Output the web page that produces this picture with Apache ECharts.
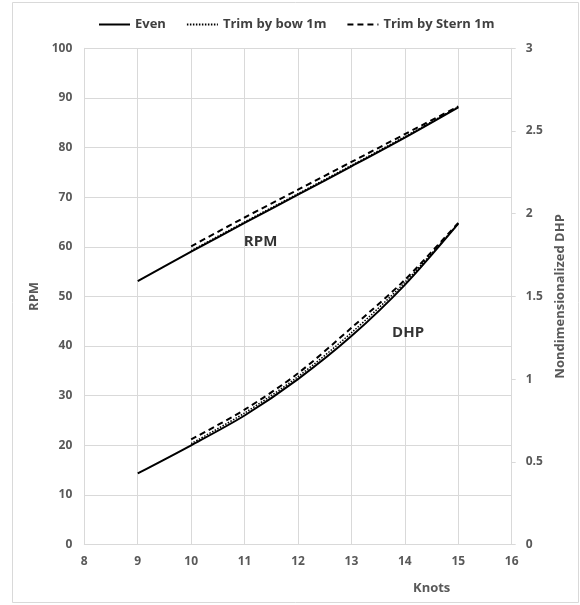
<!DOCTYPE html>
<html>
<head>
<meta charset="utf-8">
<script src="https://cdn.jsdelivr.net/npm/echarts@6/dist/echarts.min.js"></script>
<style>
  html, body { margin: 0; padding: 0; background: #ffffff; }
  #chart { width: 580px; height: 605px; }
</style>
</head>
<body>
<div id="chart"></div>
<script>
// Ship speed (knots) for the even-keel run and the two trim runs
const knotsEven = [9, 10, 11, 12, 13, 14, 15];
const knotsTrim = [10, 11, 12, 13, 14, 15];

// Propeller revolutions (left axis)
const rpmEven  = [53.1, 59.0, 64.8, 70.5, 76.2, 82.0, 88.1];
const rpmBow   = [59.2, 65.0, 70.7, 76.4, 82.2, 88.2];
const rpmStern = [60.1, 65.9, 71.5, 77.1, 82.7, 88.3];

// Nondimensionalized delivered horsepower (right axis)
const dhpEven  = [0.43, 0.60, 0.78, 1.00, 1.26, 1.57, 1.94];
const dhpBow   = [0.61, 0.795, 1.015, 1.28, 1.585, 1.94];
const dhpStern = [0.635, 0.815, 1.035, 1.31, 1.60, 1.945];

const seriesNames = ['Even', 'Trim by bow 1m', 'Trim by Stern 1m'];
const curveLabels = ['RPM', 'DHP'];

const FONT = '"Open Sans", "Liberation Sans", sans-serif';
const GREY = '#595959';
const GRID = '#d9d9d9';

function pairs(xs, ys) { return xs.map((x, i) => [x, ys[i]]); }

const styles = [
  { type: 'solid', width: 2 },
  { type: [1.5, 1.5], width: 1.5 },
  { type: [6, 4], width: 2 }
];

function lineSeries(name, xs, ys, axisIdx, style) {
  return {
    name: name,
    type: 'line',
    yAxisIndex: axisIdx,
    smooth: 0.3,
    symbol: 'none',
    data: pairs(xs, ys),
    lineStyle: { color: '#000', width: style.width, type: style.type },
    itemStyle: { color: '#000' },
    emphasis: { disabled: true },
    z: 3
  };
}

const chart = echarts.init(document.getElementById('chart'), null, { renderer: 'canvas' });

chart.setOption({
  animation: false,
  backgroundColor: '#ffffff',
  textStyle: { fontFamily: FONT },
  grid: { left: 84.3, right: 68.3, top: 48.3, bottom: 60.5, containLabel: false },
  legend: {
    data: seriesNames,
    left: 93,
    top: 13,
    itemWidth: 31,
    itemHeight: 14,
    itemGap: 20,
    itemStyle: { opacity: 0 },
    textStyle: { fontFamily: FONT, fontSize: 13, fontWeight: 'bold', color: '#404040' }
  },
  xAxis: {
    type: 'value',
    min: 8, max: 16, interval: 1,
    axisLine: { show: true, lineStyle: { color: GRID, width: 1 } },
    axisTick: { show: false },
    axisLabel: { color: GREY, fontFamily: FONT, fontSize: 12, fontWeight: 'bold', margin: 11 },
    splitLine: { show: true, lineStyle: { color: GRID, width: 1 } }
  },
  yAxis: [
    {
      type: 'value',
      position: 'left',
      min: 0, max: 100, interval: 10,
      name: 'RPM',
      nameLocation: 'middle',
      nameRotate: 90,
      nameGap: 40,
      nameTextStyle: { color: GREY, fontFamily: FONT, fontSize: 13, fontWeight: 'bold' },
      axisLine: { show: true, lineStyle: { color: GRID, width: 1 } },
      axisTick: { show: false },
      axisLabel: { color: GREY, fontFamily: FONT, fontSize: 12, fontWeight: 'bold', margin: 12 },
      splitLine: { show: true, lineStyle: { color: GRID, width: 1 } }
    },
    {
      type: 'value',
      position: 'right',
      min: 0, max: 3, interval: 0.5,
      name: 'Nondimensionalized DHP',
      nameLocation: 'middle',
      nameRotate: 90,
      nameGap: 38,
      nameTextStyle: { color: GREY, fontFamily: FONT, fontSize: 13, fontWeight: 'bold' },
      axisLine: { show: true, lineStyle: { color: GRID, width: 1 } },
      axisTick: { show: true, inside: false, length: 4, lineStyle: { color: GRID } },
      axisLabel: { color: GREY, fontFamily: FONT, fontSize: 12, fontWeight: 'bold', margin: 14 },
      splitLine: { show: false }
    }
  ],
  series: [
    lineSeries(seriesNames[0], knotsEven, rpmEven, 0, styles[0]),
    lineSeries(seriesNames[1], knotsTrim, rpmBow, 0, styles[1]),
    lineSeries(seriesNames[2], knotsTrim, rpmStern, 0, styles[2]),
    lineSeries(seriesNames[0], knotsEven, dhpEven, 1, styles[0]),
    lineSeries(seriesNames[1], knotsTrim, dhpBow, 1, styles[1]),
    lineSeries(seriesNames[2], knotsTrim, dhpStern, 1, styles[2]),
    {
      // In-plot curve captions
      name: 'captions',
      type: 'scatter',
      yAxisIndex: 0,
      symbolSize: 0,
      silent: true,
      data: [
        { value: [11.3, 61.0], name: curveLabels[0] },
        { value: [14.06, 42.6], name: curveLabels[1] }
      ],
      label: {
        show: true,
        position: 'inside',
        formatter: p => p.name,
        color: '#000',
        fontFamily: FONT,
        fontSize: 15,
        fontWeight: 'bold'
      },
      z: 4
    }
  ],
  graphic: [
    {
      type: 'rect',
      shape: { x: 12.5, y: 2.5, width: 566, height: 600 },
      style: { fill: null, stroke: GRID, lineWidth: 1 },
      silent: true,
      z: -10
    },
    {
      type: 'text',
      left: 413,
      top: 582,
      style: { text: 'Knots', fill: GREY, font: 'bold 13px ' + FONT }
    }
  ]
});
</script>
</body>
</html>
